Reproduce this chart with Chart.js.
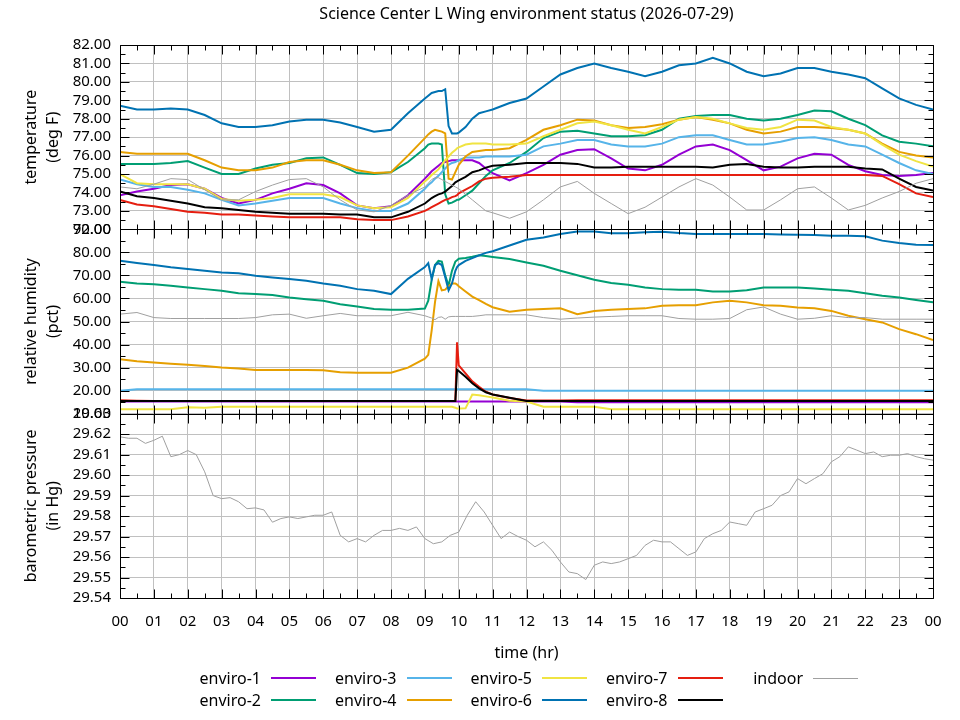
<!DOCTYPE html>
<html>
<head>
<meta charset="utf-8">
<title>Science Center L Wing environment status</title>
<script src="https://cdn.jsdelivr.net/npm/chart.js@4.4.1/dist/chart.umd.min.js"></script>
<style>
  html, body { margin: 0; padding: 0; background: #fff; }
  #wrap { position: relative; width: 960px; height: 720px; font-family: 'Noto Sans', sans-serif; color: #000; }
  #chart { position: absolute; left: 0; top: 0; }
  #title { position: absolute; left: 120px; width: 813px; top: 3px; text-align: center; font-size: 16px; line-height: 20px; }
  .key-label { position: absolute; width: 120px; text-align: right; font-size: 16px; line-height: 20px; }
  .key-line { position: absolute; width: 45px; }
</style>
</head>
<body>
<div id="wrap">
  <canvas id="chart" width="960" height="720"></canvas>
  <div id="title">Science Center L Wing environment status (2026-07-29)</div>
  <div id="legend"></div>
</div>
<script>
// sample times (hr) shared by the temperature and humidity series
const hours = [
    0, 0.5, 1, 1.5, 2, 2.5, 3, 3.5, 4, 4.5, 5, 5.5, 6, 6.5, 7, 7.5, 8, 8.5, 9,
    9.1, 9.2, 9.3, 9.4, 9.5, 9.6, 9.7, 9.8, 9.9, 9.95, 10, 10.2, 10.4, 10.6, 10.8,
    11, 11.5, 12, 12.5, 13, 13.5, 14, 14.5, 15, 15.5, 16, 16.5, 17, 17.5, 18, 18.5,
    19, 19.5, 20, 20.5, 21, 21.5, 22, 22.5, 23, 23.5, 24
];

// temperature (deg F)
const enviro1Temp = [
    73.85, 74.05, 74.2, 74.4, 74.45, 74.2, 73.7, 73.4, 73.6, 73.95, 74.2, 74.5, 74.4, 73.95, 73.3, 73.15, 73.25, 73.85, 74.75,
    74.95, 75.15, 75.3, 75.45, 75.6, 75.65, 75.7, 75.75, 75.75, 75.75, 75.75, 75.75, 75.75, 75.6, 75.3,
    75.05, 74.65, 75.05, 75.5, 76.05, 76.3, 76.35, 75.85, 75.3, 75.2, 75.5, 76.05, 76.5, 76.6, 76.3, 75.75,
    75.2, 75.4, 75.85, 76.1, 76.05, 75.5, 75.15, 74.95, 74.9, 74.95, 75.05
];
const enviro2Temp = [
    75.55, 75.55, 75.55, 75.6, 75.7, 75.35, 75.0, 75.0, 75.3, 75.5, 75.6, 75.85, 75.9, 75.5, 75.05, 75.0, 75.1, 75.65, 76.4,
    76.6, 76.65, 76.65, 76.65, 76.6, 73.9, 73.4, 73.45, 73.55, 73.6, 73.6, 73.85, 74.1, 74.5, 74.9,
    75.2, 75.6, 76.2, 76.95, 77.3, 77.35, 77.2, 77.05, 77.05, 77.1, 77.4, 78.0, 78.15, 78.2, 78.2, 78.0,
    77.9, 78.0, 78.2, 78.45, 78.4, 78.0, 77.65, 77.1, 76.75, 76.65, 76.5
];
const enviro3Temp = [
    74.7, 74.45, 74.3, 74.3, 74.15, 73.95, 73.6, 73.3, 73.4, 73.55, 73.7, 73.7, 73.7, 73.4, 73.15, 73.0, 73.0, 73.4, 74.2,
    74.4, 74.55, 74.75, 74.9, 75.1, 75.3, 75.5, 75.6, 75.65, 75.7, 75.75, 75.9, 75.9, 75.9, 75.95,
    75.95, 75.95, 76.05, 76.5, 76.65, 76.85, 76.85, 76.6, 76.5, 76.5, 76.65, 77.0, 77.1, 77.1, 76.85, 76.6,
    76.6, 76.75, 76.95, 77.0, 76.85, 76.6, 76.5, 76.05, 75.6, 75.2, 75.0
];
const enviro4Temp = [
    76.2, 76.1, 76.1, 76.1, 76.1, 75.75, 75.35, 75.2, 75.2, 75.35, 75.65, 75.75, 75.75, 75.5, 75.2, 75.05, 75.1, 76.0, 76.95,
    77.15, 77.3, 77.4, 77.35, 77.3, 77.2, 74.75, 74.7, 75.1, 75.3, 75.5, 75.95, 76.2, 76.25, 76.3,
    76.3, 76.4, 76.85, 77.4, 77.65, 77.95, 77.9, 77.65, 77.5, 77.55, 77.7, 77.95, 78.1, 77.95, 77.75, 77.4,
    77.2, 77.3, 77.55, 77.55, 77.5, 77.4, 77.2, 76.65, 76.2, 76.0, 75.9
];
const enviro5Temp = [
    75.0, 74.5, 74.45, 74.45, 74.45, 74.2, 73.65, 73.55, 73.6, 73.7, 73.9, 73.9, 73.9, 73.75, 73.3, 73.15, 73.2, 73.7, 74.6,
    74.75, 74.95, 75.1, 75.25, 75.5, 75.75, 75.95, 76.15, 76.3, 76.4, 76.45, 76.6, 76.65, 76.65, 76.65,
    76.6, 76.6, 76.65, 77.05, 77.4, 77.75, 77.85, 77.65, 77.4, 77.2, 77.55, 77.95, 78.1, 78.0, 77.75, 77.5,
    77.4, 77.55, 77.95, 77.9, 77.55, 77.4, 77.2, 76.6, 76.05, 75.7, 75.4
];
const enviro6Temp = [
    78.7, 78.5, 78.5, 78.55, 78.5, 78.2, 77.75, 77.55, 77.55, 77.65, 77.85, 77.95, 77.95, 77.8, 77.55, 77.3, 77.4, 78.3, 79.1,
    79.25, 79.4, 79.45, 79.5, 79.5, 79.6, 77.6, 77.2, 77.2, 77.2, 77.25, 77.55, 78.0, 78.3, 78.4,
    78.5, 78.85, 79.1, 79.75, 80.4, 80.75, 81.0, 80.75, 80.55, 80.3, 80.55, 80.9, 81.0, 81.3, 81.0, 80.55,
    80.3, 80.45, 80.75, 80.75, 80.55, 80.4, 80.2, 79.65, 79.1, 78.75, 78.5
];
const enviro7Temp = [
    73.6, 73.35, 73.25, 73.1, 72.95, 72.9, 72.8, 72.8, 72.75, 72.7, 72.65, 72.65, 72.65, 72.65, 72.55, 72.5, 72.5, 72.7, 73.0,
    73.1, 73.2, 73.3, 73.4, 73.5, 73.6, 73.65, 73.75, 73.8, 73.85, 73.95, 74.15, 74.35, 74.6, 74.75,
    74.8, 74.85, 74.95, 74.95, 74.95, 74.95, 74.95, 74.95, 74.95, 74.95, 74.95, 74.95, 74.95, 74.95, 74.95, 74.95,
    74.95, 74.95, 74.95, 74.95, 74.95, 74.95, 74.95, 74.9, 74.45, 73.95, 73.75
];
const enviro8Temp = [
    74.05, 73.8, 73.7, 73.55, 73.4, 73.2, 73.15, 73.05, 72.95, 72.9, 72.85, 72.85, 72.85, 72.8, 72.8, 72.65, 72.65, 72.95, 73.4,
    73.55, 73.7, 73.8, 73.9, 73.95, 74.05, 74.2, 74.35, 74.55, 74.6, 74.65, 74.85, 75.1, 75.2, 75.35,
    75.45, 75.5, 75.6, 75.6, 75.6, 75.55, 75.35, 75.35, 75.4, 75.4, 75.4, 75.4, 75.4, 75.35, 75.5, 75.55,
    75.4, 75.35, 75.35, 75.4, 75.4, 75.4, 75.3, 75.25, 74.75, 74.3, 74.1
];
const indoorTemp = [
    74.3, 74.2, 74.45, 74.75, 74.7, 74.15, 73.6, 73.6, 74.05, 74.4, 74.7, 74.75, 74.3, 73.6, 73.05, 72.95, 73.3, 73.85, 74.3,
    74.5, 74.7, 74.8, 74.8, 74.7, 74.6, 74.5, 74.4, 74.3, 74.25, 74.2, 73.9, 73.6, 73.3, 73.0,
    72.9, 72.6, 72.95, 73.6, 74.3, 74.6, 73.95, 73.4, 72.85, 73.2, 73.75, 74.3, 74.75, 74.4, 73.75, 73.05,
    73.05, 73.6, 74.2, 74.3, 73.7, 73.05, 73.3, 73.7, 74.05, 74.5, 74.75
];

// relative humidity (pct)
const enviro1Hum = [
    15.3, 15.3, 15.3, 15.3, 15.3, 15.3, 15.3, 15.3, 15.3, 15.3, 15.3, 15.3, 15.3, 15.3, 15.3, 15.3, 15.3, 15.3, 15.3,
    15.3, 15.3, 15.3, 15.3, 15.3, 15.3, 15.3, 15.3, 15.3, 15.3, 15.3, 15.3, 15.3, 15.3, 15.3,
    15.3, 15.3, 15.3, 15.3, 15.3, 15.0, 15.0, 15.0, 15.0, 15.0, 15.0, 15.0, 15.0, 15.0, 15.0, 15.0,
    15.0, 15.0, 15.0, 15.0, 15.0, 15.0, 15.0, 15.0, 15.0, 15.0, 15.0
];
const enviro2Hum = [
    67.2, 66.5, 66.2, 65.5, 64.8, 64.05, 63.3, 62.3, 61.9, 61.45, 60.4, 59.7, 59.0, 57.5, 56.5, 55.4, 55.1, 55.1, 55.6,
    59.0, 68.0, 74.5, 76.3, 76.0, 70.0, 65.5, 72.0, 76.0, 76.6, 77.2, 77.6, 78.1, 78.7, 78.4,
    78.0, 77.1, 75.65, 74.2, 72.0, 70.1, 68.1, 66.7, 65.9, 64.8, 64.05, 63.8, 63.8, 63.0, 63.0, 63.6,
    64.8, 64.8, 64.8, 64.3, 63.8, 63.3, 62.3, 61.2, 60.4, 59.3, 58.3
];
const enviro3Hum = [
    19.9, 20.6, 20.6, 20.6, 20.6, 20.6, 20.6, 20.6, 20.6, 20.6, 20.6, 20.6, 20.6, 20.6, 20.6, 20.6, 20.6, 20.6, 20.6,
    20.6, 20.6, 20.6, 20.6, 20.6, 20.6, 20.6, 20.6, 20.6, 20.6, 20.6, 20.6, 20.6, 20.6, 20.6,
    20.6, 20.6, 20.6, 19.9, 19.9, 19.9, 19.9, 19.9, 19.9, 19.9, 19.9, 19.9, 19.9, 19.9, 19.9, 19.9,
    19.9, 19.9, 19.9, 19.9, 19.9, 19.9, 19.9, 19.9, 19.9, 19.9, 19.9
];
const enviro4Hum = [
    33.6, 32.8, 32.2, 31.7, 31.2, 30.7, 30.0, 29.6, 29.0, 29.0, 29.0, 29.0, 28.8, 28.0, 27.8, 27.8, 27.8, 30.0, 33.9,
    35.5, 46.0, 58.5, 67.5, 63.5, 63.8, 65.3, 66.5, 66.5, 66.0, 65.3, 63.0, 60.8, 59.3, 57.6,
    56.2, 54.2, 55.1, 55.4, 55.7, 53.2, 54.6, 55.1, 55.4, 55.7, 56.8, 57.1, 57.1, 58.3, 59.0, 58.3,
    57.1, 56.8, 56.1, 55.7, 54.6, 52.5, 51.0, 49.6, 46.7, 44.5, 42.0
];
const enviro5Hum = [
    11.9, 11.9, 11.9, 11.9, 12.8, 12.6, 13.0, 13.0, 13.0, 13.0, 13.0, 13.0, 13.0, 13.0, 13.0, 13.0, 13.0, 13.0, 13.0,
    13.0, 13.0, 13.0, 13.0, 13.0, 13.0, 13.0, 13.0, 12.6, 12.2, 12.2, 12.3, 18.3, 18.0, 17.5,
    17.0, 15.6, 15.3, 13.0, 13.0, 13.0, 13.0, 11.9, 11.9, 11.9, 11.9, 11.9, 11.9, 11.9, 11.9, 11.9,
    11.9, 11.9, 11.9, 11.9, 11.9, 11.9, 11.9, 11.9, 11.9, 11.9, 11.9
];
const enviro6Hum = [
    76.4, 75.4, 74.5, 73.5, 72.75, 72.0, 71.3, 70.9, 69.85, 69.1, 68.4, 67.7, 66.5, 65.5, 64.05, 63.3, 61.9, 68.5, 73.6,
    75.3, 68.5, 74.5, 75.3, 74.5, 69.3, 63.5, 66.5, 72.0, 73.6, 74.5, 76.3, 77.5, 78.7, 79.8,
    80.5, 83.0, 85.5, 86.5, 88.0, 89.1, 89.1, 88.3, 88.3, 88.7, 89.0, 88.4, 88.0, 88.0, 88.0, 88.0,
    88.0, 87.8, 87.7, 87.5, 87.2, 87.2, 87.0, 85.1, 84.1, 83.3, 83.2
];
const enviro7Hum = [
    15.8, 15.6, 15.5, 15.5, 15.5, 15.5, 15.5, 15.5, 15.5, 15.5, 15.5, 15.5, 15.5, 15.5, 15.5, 15.5, 15.5, 15.5, 15.5,
    15.5, 15.5, 15.5, 15.5, 15.5, 15.5, 15.5, 15.5, 15.5, 41.0, 31.0, 27.5, 24.0, 21.7, 19.5,
    18.3, 16.8, 15.7, 15.7, 15.7, 15.8, 15.8, 15.8, 15.8, 15.8, 15.8, 15.8, 15.8, 15.8, 15.8, 15.8,
    15.8, 15.8, 15.8, 15.8, 15.8, 15.8, 15.8, 15.8, 15.8, 15.8, 15.8
];
const enviro8Hum = [
    15.5, 15.5, 15.5, 15.5, 15.5, 15.5, 15.5, 15.5, 15.5, 15.5, 15.5, 15.5, 15.5, 15.5, 15.5, 15.5, 15.5, 15.5, 15.5,
    15.5, 15.5, 15.5, 15.5, 15.5, 15.5, 15.5, 15.5, 15.5, 29.0, 28.5, 26.0, 23.2, 21.0, 19.3,
    18.3, 16.9, 15.5, 15.5, 15.5, 15.5, 15.5, 15.5, 15.5, 15.5, 15.5, 15.5, 15.5, 15.5, 15.5, 15.5,
    15.5, 15.5, 15.5, 15.5, 15.5, 15.5, 15.5, 15.5, 15.5, 15.5, 15.5
];
const indoorHum = [
    53.2, 53.9, 51.7, 51.3, 51.3, 51.3, 51.3, 51.3, 51.7, 52.9, 53.2, 51.4, 52.5, 53.5, 52.5, 52.5, 52.5, 54.0, 52.5,
    52.0, 51.5, 50.8, 51.8, 52.0, 51.0, 52.0, 52.2, 52.2, 52.2, 52.2, 52.2, 52.2, 52.5, 52.9,
    52.9, 52.9, 52.9, 51.7, 51.0, 51.5, 51.9, 52.2, 52.5, 52.5, 52.5, 51.3, 51.0, 51.0, 51.3, 55.1,
    56.3, 53.2, 51.0, 51.4, 52.5, 51.7, 51.7, 51.0, 51.0, 51.0, 51.0
];

// barometric pressure (in Hg), indoor only, quarter-hour samples
const pressureHours = [
    0, 0.25, 0.5, 0.75, 1, 1.25, 1.5, 1.75, 2, 2.25, 2.5, 2.75, 3, 3.25, 3.5, 3.75,
    4, 4.25, 4.5, 4.75, 5, 5.25, 5.5, 5.75, 6, 6.25, 6.5, 6.75, 7, 7.25, 7.5, 7.75,
    8, 8.25, 8.5, 8.75, 9, 9.25, 9.5, 9.75, 10, 10.25, 10.5, 10.75, 11, 11.25, 11.5, 11.75,
    12, 12.25, 12.5, 12.75, 13, 13.25, 13.5, 13.75, 14, 14.25, 14.5, 14.75, 15, 15.25, 15.5, 15.75,
    16, 16.25, 16.5, 16.75, 17, 17.25, 17.5, 17.75, 18, 18.25, 18.5, 18.75, 19, 19.25, 19.5, 19.75,
    20, 20.25, 20.5, 20.75, 21, 21.25, 21.5, 21.75, 22, 22.25, 22.5, 22.75, 23, 23.25, 23.5, 23.75, 24
];
const indoorPressure = [
    29.6187, 29.618, 29.618, 29.6155, 29.617, 29.619, 29.609, 29.610, 29.612, 29.610, 29.6016, 29.590, 29.5885, 29.589, 29.587, 29.5836,
    29.584, 29.583, 29.577, 29.5788, 29.5796, 29.5788, 29.5796, 29.5804, 29.5804, 29.582, 29.5706, 29.5674, 29.569, 29.5674, 29.5706, 29.573,
    29.573, 29.574, 29.573, 29.5747, 29.569, 29.5665, 29.5674, 29.5706, 29.5722, 29.5804, 29.587, 29.582, 29.5755, 29.569, 29.5722, 29.570,
    29.5682, 29.565, 29.5674, 29.5633, 29.5576, 29.5527, 29.5519, 29.549, 29.556, 29.5576, 29.5568, 29.5576, 29.5592, 29.5608, 29.5657, 29.5682,
    29.5674, 29.5674, 29.5641, 29.5608, 29.5625, 29.569, 29.5714, 29.573, 29.5771, 29.5763, 29.5755, 29.582, 29.5836, 29.5853, 29.590, 29.5918,
    29.5983, 29.5958, 29.5983, 29.6007, 29.6065, 29.609, 29.6138, 29.6122, 29.6105, 29.6113, 29.609, 29.6097, 29.6097, 29.6105, 29.609, 29.608, 29.6073
];

// axis ticks
const hourTicks = [0, 1, 2, 3, 4, 5, 6, 7, 8, 9, 10, 11, 12, 13, 14, 15, 16, 17, 18, 19, 20, 21, 22, 23, 24];
const tempTicks = [72, 73, 74, 75, 76, 77, 78, 79, 80, 81, 82];
const humTicks = [10, 20, 30, 40, 50, 60, 70, 80, 90];
const pressureTicks = [29.54, 29.55, 29.56, 29.57, 29.58, 29.59, 29.60, 29.61, 29.62, 29.63];

const seriesNames = ['enviro-1', 'enviro-2', 'enviro-3', 'enviro-4', 'enviro-5', 'enviro-6', 'enviro-7', 'enviro-8', 'indoor'];
const seriesColors = ['#9400d3', '#009e73', '#56b4e9', '#e69f00', '#f0e442', '#0072b2', '#e51e10', '#000000', '#a0a0a0'];
const tempSeries = [enviro1Temp, enviro2Temp, enviro3Temp, enviro4Temp, enviro5Temp, enviro6Temp, enviro7Temp, enviro8Temp, indoorTemp];
const humSeries = [enviro1Hum, enviro2Hum, enviro3Hum, enviro4Hum, enviro5Hum, enviro6Hum, enviro7Hum, enviro8Hum, indoorHum];

const GRID = '#c0c0c0';

function toPoints(xs, ys) {
    return xs.map((x, i) => ({ x, y: ys[i] }));
}

function buildDatasets() {
    const datasets = [];
    const add = (i, xs, ys, axis) => {
        datasets.push({
            label: seriesNames[i],
            data: toPoints(xs, ys),
            yAxisID: axis,
            borderColor: seriesColors[i],
            borderWidth: seriesNames[i] === 'indoor' ? 1 : 2,
            pointRadius: 0,
            tension: 0,
            fill: false,
            // later series are drawn on top, like the original plot
            order: -datasets.length
        });
    };
    tempSeries.forEach((ys, i) => add(i, hours, ys, 'temp'));
    humSeries.forEach((ys, i) => add(i, hours, ys, 'hum'));
    add(8, pressureHours, indoorPressure, 'pres');
    return datasets;
}

function panelScale(ticks, title) {
    return {
        type: 'linear',
        position: 'left',
        stack: 'panels',
        stackWeight: 1,
        min: ticks[0],
        max: ticks[ticks.length - 1],
        afterBuildTicks: s => { s.ticks = ticks.map(v => ({ value: v })); },
        afterFit: s => { s.width = 120; },
        ticks: { autoSkip: false, padding: 9, color: '#000', font: { size: 15 }, callback: v => v.toFixed(2) },
        grid: { color: GRID, drawTicks: false },
        border: { display: false },
        title: { display: true, text: title, color: '#000', font: { size: 16, lineHeight: 1.4 }, padding: { top: 20, bottom: 0 } }
    };
}

// gnuplot style frame: black border per panel with inward major/minor ticks on all sides
const framePlugin = {
    id: 'frame',
    afterDatasetsDraw(chart) {
        const { ctx, chartArea } = chart;
        const xs = chart.scales.x;
        const L = Math.round(chartArea.left) + 0.5;
        const R = Math.round(chartArea.right) + 0.5;
        const seg = (x1, y1, x2, y2) => { ctx.moveTo(x1, y1); ctx.lineTo(x2, y2); };
        const px = (s, v) => Math.round(s.getPixelForValue(v)) + 0.5;

        ctx.save();
        ctx.strokeStyle = '#000';
        ctx.lineWidth = 1;
        ctx.beginPath();
        ['temp', 'hum', 'pres'].forEach(id => {
            const s = chart.scales[id];
            const T = Math.round(s.top) + 0.5;
            const B = Math.round(s.bottom) + 0.5;
            ctx.rect(L, T, R - L, B - T);

            const yv = s.ticks.map(t => t.value);
            yv.forEach((v, i) => {
                const y = px(s, v);
                seg(L, y, L + 9, y);
                seg(R, y, R - 9, y);
                if (i > 0) {
                    const ym = px(s, (v + yv[i - 1]) / 2);
                    seg(L, ym, L + 5, ym);
                    seg(R, ym, R - 5, ym);
                }
            });

            hourTicks.forEach((h, i) => {
                const x = px(xs, h);
                seg(x, T, x, T + 9);
                seg(x, B, x, B - 9);
                if (i > 0) {
                    const xm = px(xs, (h + hourTicks[i - 1]) / 2);
                    seg(xm, T, xm, T + 5);
                    seg(xm, B, xm, B - 5);
                }
            });
        });
        ctx.stroke();
        ctx.restore();
    }
};

function buildLegend() {
    const box = document.getElementById('legend');
    seriesNames.forEach((name, i) => {
        const col = Math.floor(i / 2);
        const row = i % 2;
        const right = 261 + col * 135.5;
        const mid = 678 + row * 22;

        const label = document.createElement('div');
        label.className = 'key-label';
        label.textContent = name;
        label.style.left = (right - 120) + 'px';
        label.style.top = (mid - 10) + 'px';
        box.appendChild(label);

        const sample = document.createElement('div');
        const w = name === 'indoor' ? 1 : 2;
        sample.className = 'key-line';
        sample.style.left = (right + 10) + 'px';
        sample.style.top = (mid - w / 2) + 'px';
        sample.style.height = w + 'px';
        sample.style.background = seriesColors[i];
        box.appendChild(sample);
    });
}

Chart.defaults.font.family = "'Noto Sans', sans-serif";
Chart.defaults.color = '#000';

new Chart(document.getElementById('chart'), {
    type: 'line',
    data: { datasets: buildDatasets() },
    options: {
        responsive: false,
        animation: false,
        layout: { padding: { left: 0, top: 45, right: 27, bottom: 52 } },
        plugins: {
            legend: { display: false },
            title: { display: false },
            tooltip: { enabled: false }
        },
        scales: {
            x: {
                type: 'linear',
                min: 0,
                max: 24,
                afterBuildTicks: s => { s.ticks = hourTicks.map(v => ({ value: v })); },
                afterFit: s => { s.height = 70; },
                ticks: {
                    autoSkip: false, maxRotation: 0, padding: 15, color: '#000', font: { size: 15 },
                    callback: v => String(v % 24).padStart(2, '0')
                },
                grid: { color: GRID, drawTicks: false },
                border: { display: false },
                title: { display: true, text: 'time (hr)', color: '#000', font: { size: 16 }, padding: { top: 0, bottom: 5 } }
            },
            pres: panelScale(pressureTicks, ['barometric pressure', '(in Hg)']),
            hum: panelScale(humTicks, ['relative humidity', '(pct)']),
            temp: panelScale(tempTicks, ['temperature', '(deg F)'])
        }
    },
    plugins: [framePlugin]
});

buildLegend();
</script>
</body>
</html>
